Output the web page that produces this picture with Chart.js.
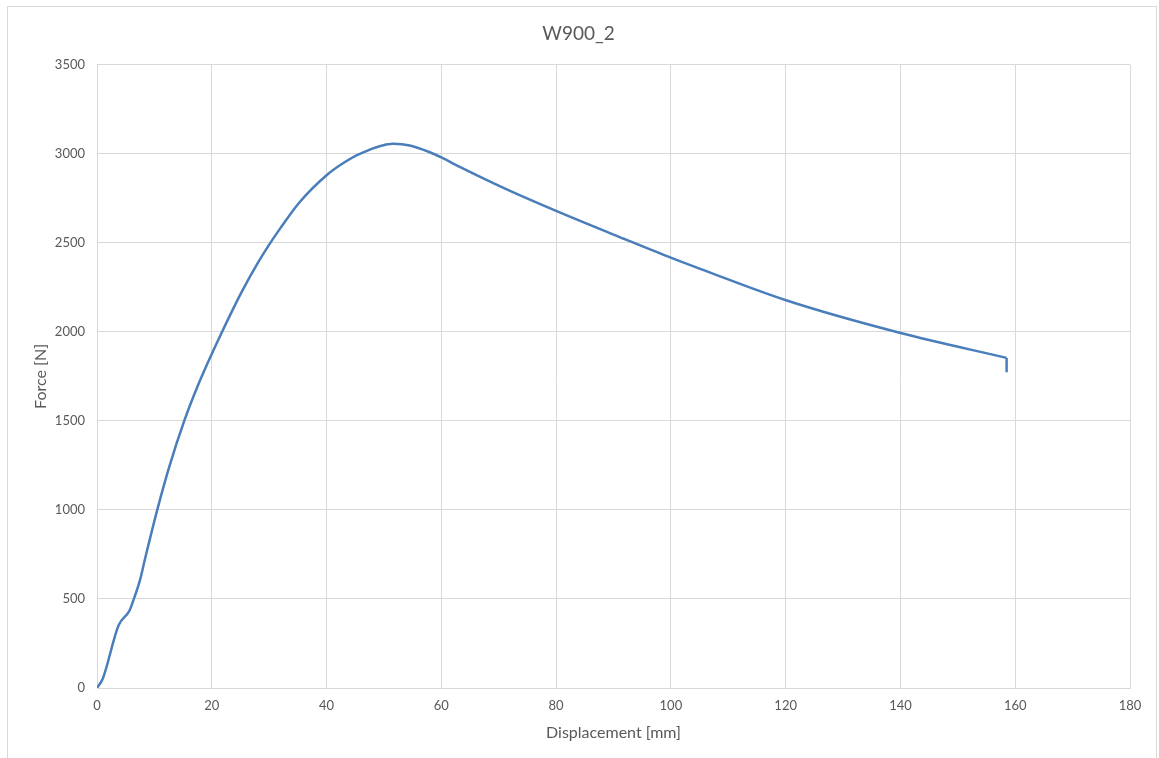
<!DOCTYPE html>
<html>
<head>
<meta charset="utf-8">
<script src="https://cdn.jsdelivr.net/npm/chart.js@4.4.0/dist/chart.umd.min.js"></script>
<style>
  html, body { margin:0; padding:0; background:#fff; overflow:hidden; }
  #frame { position:absolute; left:7px; top:6px; width:1150px; height:800px; border:1px solid #d9d9d9; box-sizing:border-box; }
  #wrap { position:absolute; left:0; top:0; width:1159px; height:758px; }
</style>
</head>
<body>
<div id="frame"></div>
<div id="wrap"><canvas id="chart" width="1159" height="758"></canvas></div>
<script>
// displacement [mm] and force [N]
const displacement = [0, 1.0, 3.75, 5.67, 6.37, 7.5, 8.3, 10.5, 12.6, 15.2, 17.6, 20.0, 21.7, 23.7,
  25.4, 27.8, 30.0, 31.9, 35.3, 40.2, 43.0, 45.8, 51.6, 54.5, 58.0, 60.1, 63.3, 71.4, 80.1, 91.8,
  100.2, 105.1, 120.2, 140.2, 158.5, 158.5];
const force = [0, 52, 351, 435, 495, 607, 716, 1000, 1243, 1500, 1700, 1876, 1994, 2128,
  2236, 2375, 2490, 2580, 2728, 2885, 2950, 3000, 3056, 3047, 3009, 2978, 2925, 2800, 2678, 2523,
  2414, 2354, 2176, 1992, 1854, 1773];

const xTicks = [0, 20, 40, 60, 80, 100, 120, 140, 160, 180];
const yTicks = [0, 500, 1000, 1500, 2000, 2500, 3000, 3500];

const txt = "#595959";
const grid = "#d9d9d9";
const lineColor = "#4a7ebb";
const font = "Lato, 'Open Sans', sans-serif";

const points = displacement.map((x, i) => ({ x, y: force[i] }));
const n = points.length;

function series(data, mode) {
  return {
    data,
    showLine: true,
    borderColor: lineColor,
    borderWidth: 2.5,
    pointRadius: 0,
    cubicInterpolationMode: mode,
    fill: false
  };
}

new Chart(document.getElementById("chart"), {
  type: "scatter",
  data: {
    datasets: [
      series(points.slice(0, n - 1), "monotone"),   // the test curve
      series(points.slice(n - 2), "default")          // final drop at break
    ]
  },
  options: {
    responsive: false,
    animation: false,
    layout: { padding: { left: 27, right: 29, top: 12, bottom: 12 } },
    plugins: {
      legend: { display: false },
      tooltip: { enabled: false },
      title: {
        display: true,
        text: "W900_2",
        color: txt,
        font: { family: font, size: 19, weight: "normal" },
        padding: { top: 10, bottom: 20 }
      }
    },
    scales: {
      x: {
        type: "linear",
        min: xTicks[0], max: xTicks[xTicks.length - 1],
        afterBuildTicks: s => { s.ticks = xTicks.map(v => ({ value: v })); },
        afterFit: s => { s.height = 58; },
        grid: { color: grid, drawTicks: false, lineWidth: 1 },
        border: { color: grid, width: 1 },
        ticks: { color: txt, font: { family: font, size: 13 }, padding: 10, callback: v => String(v) },
        title: { display: true, text: "Displacement [mm]", color: txt,
          font: { family: font, size: 16 }, padding: { top: 4, bottom: 4 } }
      },
      y: {
        type: "linear",
        min: yTicks[0], max: yTicks[yTicks.length - 1],
        afterBuildTicks: s => { s.ticks = yTicks.map(v => ({ value: v })); },
        afterFit: s => { s.width = 70; },
        grid: { color: grid, drawTicks: false, lineWidth: 1 },
        border: { color: grid, width: 1 },
        ticks: { color: txt, font: { family: font, size: 13 }, padding: 12, callback: v => String(v) },
        title: { display: true, text: "Force [N]", color: txt,
          font: { family: font, size: 16 }, padding: { top: 4, bottom: 4 } }
      }
    }
  }
});
</script>
</body>
</html>
